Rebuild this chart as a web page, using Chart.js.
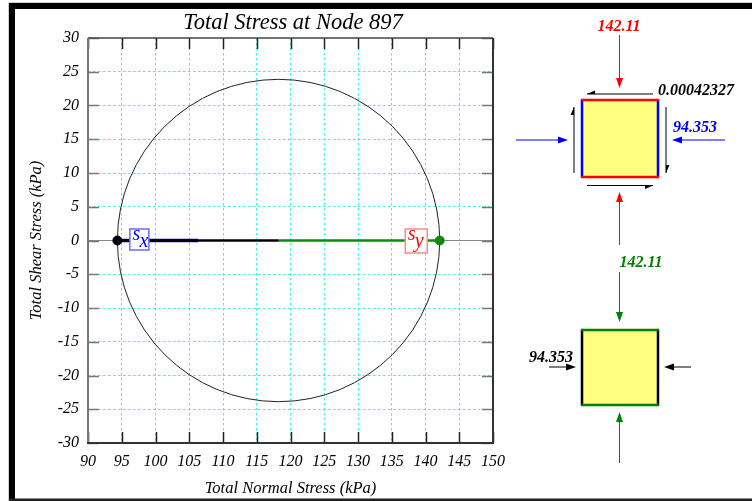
<!DOCTYPE html>
<html>
<head>
<meta charset="utf-8">
<script src="https://cdn.jsdelivr.net/npm/chart.js@4/dist/chart.umd.min.js"></script>
<style>
  html, body { margin: 0; padding: 0; background: #fff; overflow: hidden; }
  canvas { display: block; }
</style>
</head>
<body>
<canvas id="mohr" width="752" height="501"></canvas>
<script>
// ---- values ----
const chartTitle = 'Total Stress at Node 897';
const xAxisTitle = 'Total Normal Stress (kPa)';
const yAxisTitle = 'Total Shear Stress (kPa)';
const xLimits = [90, 150];
const yLimits = [-30, 30];
const tickStep = 5;

const sigmaX = 94.353;        // normal stress on x face
const sigmaY = 142.11;        // normal stress on y face
const tauXY = 0.00042327;     // shear stress
const sigmaMajor = 142.11;    // principal stresses
const sigmaMinor = 94.353;
const xTraceEnd = 106.3;      // end of the short blue trace from sigma x

const SERIF = '"Liberation Serif", "Times New Roman", serif';
const centre = (sigmaX + sigmaY) / 2;
const radius = (sigmaMajor - sigmaMinor) / 2;

// ---- page frame, title, Mohr circle, axis box, inner ticks ----
const framePlugin = {
  id: 'frame',
  beforeDraw(chart) {
    const ctx = chart.ctx;
    ctx.save();
    ctx.fillStyle = '#fff';
    ctx.fillRect(0, 0, chart.width, chart.height);
    ctx.fillStyle = '#d0d0d0';
    ctx.fillRect(8, 2, chart.width - 8, 1);
    ctx.fillRect(8, 2, 1, chart.height - 2);
    ctx.fillStyle = '#000';
    ctx.fillRect(9, 3, 6, chart.height - 3);
    ctx.fillRect(9, 3, chart.width - 9, 6);
    ctx.fillStyle = '#222';
    ctx.fillRect(9, chart.height - 2.5, chart.width - 9, 2.5);

    ctx.fillStyle = '#000';
    ctx.font = 'italic 22.5px ' + SERIF;
    ctx.textAlign = 'center';
    ctx.textBaseline = 'middle';
    ctx.fillText(chartTitle, 293, 23);
    ctx.restore();
  },
  beforeDatasetsDraw(chart) {
    const ctx = chart.ctx;
    const xs = chart.scales.x, ys = chart.scales.y;
    const a = chart.chartArea;
    ctx.save();
    // Mohr circle
    const cx = xs.getPixelForValue(centre);
    const cy = ys.getPixelForValue(0);
    const rx = Math.abs(xs.getPixelForValue(centre + radius) - cx);
    const ry = Math.abs(ys.getPixelForValue(radius) - cy);
    ctx.beginPath();
    ctx.ellipse(cx, cy, rx, ry, 0, 0, Math.PI * 2);
    ctx.strokeStyle = '#222';
    ctx.lineWidth = 1;
    ctx.stroke();

    // inner tick marks on all four sides
    const len = 11;
    ctx.lineWidth = 1.5;
    ctx.strokeStyle = '#222';
    xs.ticks.forEach(t => {
      const px = Math.round(xs.getPixelForValue(t.value)) + 0.5;
      ctx.beginPath();
      ctx.moveTo(px, a.top); ctx.lineTo(px, a.top + len);
      ctx.moveTo(px, a.bottom); ctx.lineTo(px, a.bottom - len);
      ctx.stroke();
    });
    ctx.strokeStyle = '#777';
    ys.ticks.forEach(t => {
      const py = Math.round(ys.getPixelForValue(t.value)) + 0.5;
      ctx.beginPath();
      ctx.moveTo(a.left, py); ctx.lineTo(a.left + len, py);
      ctx.moveTo(a.right, py); ctx.lineTo(a.right - len, py);
      ctx.stroke();
    });

    // axis box
    ctx.lineWidth = 1.5;
    ctx.strokeStyle = '#444';
    ctx.beginPath(); ctx.moveTo(a.left, a.top); ctx.lineTo(a.right, a.top); ctx.stroke();
    ctx.strokeStyle = '#777';
    ctx.lineWidth = 2;
    ctx.beginPath(); ctx.moveTo(a.left, a.top); ctx.lineTo(a.left, a.bottom); ctx.stroke();
    ctx.strokeStyle = '#333';
    ctx.beginPath(); ctx.moveTo(a.right, a.top); ctx.lineTo(a.right, a.bottom); ctx.stroke();
    ctx.beginPath(); ctx.moveTo(a.left - 1, a.bottom); ctx.lineTo(a.right + 1, a.bottom); ctx.stroke();
    ctx.restore();
  },
  afterDatasetsDraw(chart) {
    const ctx = chart.ctx;
    const xs = chart.scales.x, ys = chart.scales.y;
    const py = ys.getPixelForValue(0);
    drawTag(ctx, xs.getPixelForValue(sigmaX) + 12.5, py - 11.5, 19, 21, 'x', '#0000ff', '#6a6aff');
    drawTag(ctx, xs.getPixelForValue(sigmaY) - 12.5 - 22, py - 11.5, 22, 24, 'y', '#ff0000', '#ff8a8a');
    drawElements(ctx);
  }
};

// boxed sigma labels on the circle
function drawTag(ctx, x, y, w, h, sub, color, edge) {
  ctx.save();
  ctx.fillStyle = '#fff';
  ctx.fillRect(x, y, w, h);
  ctx.strokeStyle = edge;
  ctx.lineWidth = 1.5;
  ctx.strokeRect(x, y, w, h);
  ctx.fillStyle = color;
  ctx.textBaseline = 'alphabetic';
  ctx.textAlign = 'left';
  ctx.font = 'italic 20px ' + SERIF;
  ctx.fillText('s', x + 2.5, y + 11);
  ctx.fillText(sub, x + 9.5, y + 17.5);
  ctx.restore();
}

// ---- stress element sketches ----
function arrow(ctx, x1, y1, x2, y2, color, head = 10, half = 3.5) {
  const ang = Math.atan2(y2 - y1, x2 - x1);
  const bx = x2 - head * Math.cos(ang), by = y2 - head * Math.sin(ang);
  ctx.strokeStyle = color; ctx.fillStyle = color; ctx.lineWidth = 1;
  ctx.beginPath(); ctx.moveTo(x1, y1); ctx.lineTo(bx, by); ctx.stroke();
  ctx.beginPath();
  ctx.moveTo(x2, y2);
  ctx.lineTo(bx + half * Math.sin(ang), by - half * Math.cos(ang));
  ctx.lineTo(bx - half * Math.sin(ang), by + half * Math.cos(ang));
  ctx.closePath(); ctx.fill();
}
function halfArrow(ctx, x1, y1, x2, y2, side, color) {
  const ang = Math.atan2(y2 - y1, x2 - x1);
  const bx = x2 - 8 * Math.cos(ang), by = y2 - 8 * Math.sin(ang);
  ctx.strokeStyle = color; ctx.fillStyle = color; ctx.lineWidth = 1;
  ctx.beginPath(); ctx.moveTo(x1, y1); ctx.lineTo(x2, y2); ctx.stroke();
  ctx.beginPath();
  ctx.moveTo(x2, y2);
  ctx.lineTo(bx + side * 3.5 * Math.sin(ang), by - side * 3.5 * Math.cos(ang));
  ctx.lineTo(bx, by);
  ctx.closePath(); ctx.fill();
}
function block(ctx, x, y, w, h, faceH, faceV) {
  ctx.fillStyle = '#ffff80';
  ctx.fillRect(x, y, w, h);
  ctx.lineWidth = 2.5;
  ctx.lineCap = 'round';
  ctx.strokeStyle = faceV;
  ctx.beginPath(); ctx.moveTo(x, y); ctx.lineTo(x, y + h);
  ctx.moveTo(x + w, y); ctx.lineTo(x + w, y + h); ctx.stroke();
  ctx.strokeStyle = faceH;
  ctx.beginPath(); ctx.moveTo(x, y); ctx.lineTo(x + w, y);
  ctx.moveTo(x, y + h); ctx.lineTo(x + w, y + h); ctx.stroke();
  ctx.lineCap = 'butt';
}
function label(ctx, text, x, y, color, align) {
  ctx.fillStyle = color;
  ctx.font = 'italic bold 16px ' + SERIF;
  ctx.textAlign = align;
  ctx.textBaseline = 'middle';
  ctx.fillText(text, x, y);
}
function drawElements(ctx) {
  ctx.save();
  const red = '#ff0000', blue = '#0000ff', green = '#008000', black = '#000';
  // element in x-y orientation
  block(ctx, 582, 100, 76, 77, red, blue);
  arrow(ctx, 619.5, 35, 619.5, 88, red);
  arrow(ctx, 619.5, 245, 619.5, 192, red);
  arrow(ctx, 516, 140, 568, 140, blue);
  arrow(ctx, 725, 140, 672, 140, blue);
  halfArrow(ctx, 653, 94, 587, 94, -1, black);
  halfArrow(ctx, 587, 185.5, 653, 185.5, -1, black);
  halfArrow(ctx, 574, 173, 574, 107, 1, black);
  halfArrow(ctx, 666, 107, 666, 173, 1, black);
  label(ctx, String(sigmaY), 619, 27, red, 'center');
  label(ctx, String(tauXY), 658, 91, black, 'left');
  label(ctx, String(sigmaX), 695, 128, blue, 'center');

  // principal element
  block(ctx, 582, 330, 76, 75, green, black);
  arrow(ctx, 619.5, 272, 619.5, 322, green);
  arrow(ctx, 619.5, 463, 619.5, 412, green);
  arrow(ctx, 549, 367, 576, 367, black);
  arrow(ctx, 691, 367, 664, 367, black);
  label(ctx, String(sigmaMajor), 641, 263, green, 'center');
  label(ctx, String(sigmaMinor), 551, 358, black, 'center');
  ctx.restore();
}

// ---- chart ----
const gridColor = ctx => {
  const v = ctx.tick ? ctx.tick.value : null;
  if (v === null) return 'rgba(0,0,0,0)';
  const s = ctx.scale;
  if (v <= s.min || v >= s.max) return 'rgba(0,0,0,0)';
  if (s.axis === 'y' && v === 0) return '#8a8a8a';
  return '#40eeee';
};
const gridDash = ctx => (ctx.tick && ctx.scale.axis === 'y' && ctx.tick.value === 0) ? [] : [2.5, 2.5];

// the first dataset in the list is painted last (on top)
new Chart(document.getElementById('mohr'), {
  type: 'scatter',
  data: {
    datasets: [
      { data: [{ x: sigmaX, y: tauXY }],
        pointRadius: 4.5, pointBackgroundColor: '#000', pointBorderColor: '#000' },
      { data: [{ x: sigmaY, y: -tauXY }],
        pointRadius: 4.5, pointBackgroundColor: '#118811', pointBorderColor: '#118811' },
      { data: [{ x: sigmaX, y: tauXY }, { x: centre, y: 0 }],
        showLine: true, borderColor: '#000', borderWidth: 2.5, pointRadius: 0 },
      { data: [{ x: centre, y: 0 }, { x: sigmaY, y: -tauXY }],
        showLine: true, borderColor: '#118811', borderWidth: 2.5, pointRadius: 0 },
      { data: [{ x: sigmaX, y: 0 }, { x: xTraceEnd, y: 0 }],
        showLine: true, borderColor: '#0000cc', borderWidth: 3.5, pointRadius: 0 }
    ]
  },
  options: {
    responsive: false,
    animation: false,
    events: [],
    layout: { padding: { left: 27, right: 259, top: 38, bottom: 0 } },
    plugins: { legend: { display: false }, tooltip: { enabled: false }, title: { display: false } },
    scales: {
      x: {
        type: 'linear', min: xLimits[0], max: xLimits[1],
        afterFit: s => { s.height = 58; },
        ticks: { stepSize: tickStep, color: '#000', padding: 9, maxRotation: 0,
                 font: { family: SERIF, size: 16, style: 'italic' } },
        grid: { color: gridColor, lineWidth: 1, drawTicks: false },
        border: { display: false, dash: gridDash },
        title: { display: true, text: xAxisTitle, color: '#000', padding: { top: 0, bottom: 2 },
                 font: { family: SERIF, size: 16.5, style: 'italic' } }
      },
      y: {
        type: 'linear', min: yLimits[0], max: yLimits[1],
        afterFit: s => { s.width = 61; },
        ticks: { stepSize: tickStep, color: '#000', padding: 9,
                 font: { family: SERIF, size: 16, style: 'italic' } },
        grid: { color: gridColor, lineWidth: 1, drawTicks: false },
        border: { display: false, dash: gridDash },
        title: { display: true, text: yAxisTitle, color: '#000', padding: { top: 0, bottom: 0 },
                 font: { family: SERIF, size: 16.5, style: 'italic' } }
      }
    }
  },
  plugins: [framePlugin]
});
</script>
</body>
</html>
